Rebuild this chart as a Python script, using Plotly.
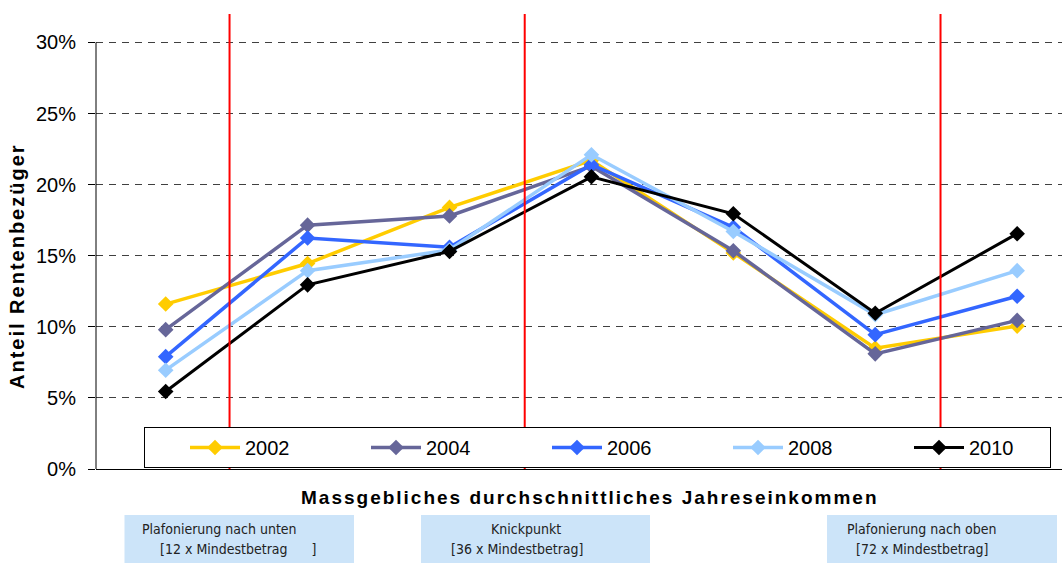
import plotly.graph_objects as go

# ---------------- data ----------------
income_classes = [1, 2, 3, 4, 5, 6, 7]
years = ["2002", "2004", "2006", "2008", "2010"]
share_2002 = [11.6, 14.45, 18.4, 21.7, 15.2, 8.5, 10.05]
share_2004 = [9.8, 17.15, 17.8, 21.3, 15.35, 8.1, 10.45]
share_2006 = [7.9, 16.25, 15.6, 21.4, 17.0, 9.45, 12.15]
share_2008 = [6.95, 13.95, 15.4, 22.1, 16.7, 10.85, 13.95]
share_2010 = [5.45, 12.95, 15.3, 20.55, 17.95, 10.95, 16.55]
series = [share_2002, share_2004, share_2006, share_2008, share_2010]
colors = ["#FFCC00", "#666699", "#3366FF", "#99CCFF", "#000000"]
widths = [3.5, 3.5, 3.5, 3.5, 3]

y_ticks = [0, 5, 10, 15, 20, 25, 30]
threshold_positions = [1.45, 3.53, 6.46]   # between income classes
box_lines = [
    ("Plafonierung nach unten", "[12 x Mindestbetrag      ]"),
    ("Knickpunkt", "[36 x Mindestbetrag]"),
    ("Plafonierung nach oben", "[72 x Mindestbetrag]"),
]

# ---------------- figure ----------------
W, H = 1062, 563
ML, MR, MT, MB = 96, 0, 14, 94
PW, PH = W - ML - MR, H - MT - MB

def px_x(p):
    return (p - ML) / PW

def px_y(p):
    return (H - MB - p) / PH

fig = go.Figure()
for name, vals, c, w in zip(years, series, colors, widths):
    fig.add_trace(go.Scatter(
        x=income_classes, y=[v / 100 for v in vals], name=name,
        mode="lines+markers",
        line=dict(color=c, width=w),
        marker=dict(symbol="diamond", size=12, color=c),
    ))

shapes = []
for xp in threshold_positions:
    shapes.append(dict(type="line", xref="x", yref="y", x0=xp, x1=xp, y0=0, y1=0.32,
                       line=dict(color="#FF0000", width=2), layer="above"))
# y axis line up to 30%
shapes.append(dict(type="line", xref="paper", yref="y", x0=0, x1=0, y0=0, y1=0.30,
                   line=dict(color="black", width=1)))
# info boxes
box_px = [(124.5, 354), (421, 650), (827, 1057)]
for x0, x1 in box_px:
    shapes.append(dict(type="rect", xref="paper", yref="paper",
                       x0=px_x(x0), x1=px_x(x1), y0=px_y(563), y1=px_y(515),
                       fillcolor="#CCE4F9", line=dict(width=0), layer="below"))

narrow = "Liberation Sans Narrow, Arial Narrow, DejaVu Sans Condensed, sans-serif"
annotations = [
    dict(text="Massgebliches durchschnittliches Jahreseinkommen", xref="paper", yref="paper",
         x=px_x(590), y=px_y(497), showarrow=False, xanchor="center", yanchor="middle",
         font=dict(size=19, color="black", weight="bold")),
    dict(text="Anteil Rentenbezüger", xref="paper", yref="paper",
         x=px_x(17), y=px_y(266), showarrow=False, xanchor="center", yanchor="middle",
         textangle=-90, font=dict(size=20, color="black", weight="bold")),
]
line_pos = [((140, "left"), (158, "left")), ((526, "center"), (517, "center")),
            ((921, "center"), (922, "center"))]
for (l1, l2), ((x1, a1), (x2, a2)) in zip(box_lines, line_pos):
    annotations.append(dict(text=l1, xref="paper", yref="paper", x=px_x(x1), y=px_y(529),
                            xanchor=a1, yanchor="middle", showarrow=False,
                            font=dict(size=14, family=narrow, color="#222")))
    annotations.append(dict(text=l2, xref="paper", yref="paper", x=px_x(x2), y=px_y(549),
                            xanchor=a2, yanchor="middle", showarrow=False,
                            font=dict(size=14, family=narrow, color="#222")))

fig.update_layout(
    width=W, height=H, autosize=False,
    margin=dict(l=ML, r=MR, t=MT, b=MB),
    paper_bgcolor="white", plot_bgcolor="white",
    font=dict(family="Liberation Sans, Arial, sans-serif", color="black", size=20),
    showlegend=True,
    legend=dict(orientation="h", x=px_x(144), xanchor="left", y=px_y(427), yanchor="top",
                bgcolor="white", bordercolor="black", borderwidth=1,
                font=dict(size=20), entrywidth=76, entrywidthmode="pixels",
                indentation=40, itemwidth=50, traceorder="normal"),
    shapes=shapes,
    annotations=annotations,
)
fig.update_xaxes(range=[0.509, 7.316], showticklabels=False, ticks="", showgrid=False,
                 zeroline=False, showline=True, linecolor="black", linewidth=1)
fig.update_yaxes(range=[0, 0.32], tickvals=[v / 100 for v in y_ticks], tickformat=".0%",
                 ticks="outside", ticklen=7, tickcolor="black", ticklabelstandoff=8,
                 showgrid=True, gridcolor="#404040", griddash="7px,6px", gridwidth=1,
                 zeroline=False, showline=False, tickfont=dict(size=20))

post = """
document.body.style.margin = '0';
document.body.style.padding = '0';
var gd = document.getElementById('{plot_id}');
function ls(){
  gd.querySelectorAll('text.annotation-text').forEach(function(t){
    var s = t.textContent;
    if (s.indexOf('Massgebliches') === 0 || s.indexOf('Anteil') === 0) {
      t.style.letterSpacing = '2px';
    }
  });
}
ls();
gd.on && gd.on('plotly_afterplot', ls);
"""
fig.write_html("out.html", post_script=post, config={"displayModeBar": False})
